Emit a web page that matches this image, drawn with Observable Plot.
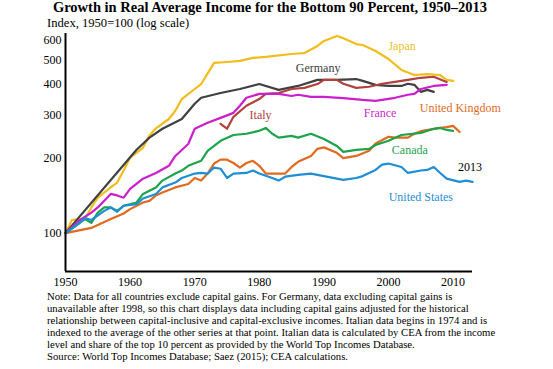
<!DOCTYPE html>
<html>
<head>
<meta charset="utf-8">
<script src="https://cdn.jsdelivr.net/npm/d3@7"></script>
<script src="https://cdn.jsdelivr.net/npm/@observablehq/plot@0.6"></script>
<style>
  html, body { margin: 0; padding: 0; background: #fff; }
  #wrap { position: relative; width: 553px; height: 369px; overflow: hidden; font-family: "Liberation Serif", "DejaVu Serif", serif; color: #000; }
  #title { position: absolute; top: 0; left: 0; width: 540px; text-align: center; font-weight: bold; font-size: 14.5px; line-height: 14px; white-space: nowrap; }
  #subtitle { position: absolute; top: 17px; left: 47px; font-size: 12.6px; line-height: 12px; white-space: nowrap; }
  #chart { position: absolute; top: 28px; left: 0; }
  #chart svg text { font-family: "Liberation Serif", serif !important; }
  #caption { position: absolute; top: 290px; left: 47px; font-family: "Liberation Serif", serif; font-size: 10.7px; line-height: 12px; white-space: nowrap; }
</style>
</head>
<body>
<div id="wrap">
  <div id="title">Growth in Real Average Income for the Bottom 90 Percent, 1950–2013</div>
  <div id="subtitle">Index, 1950=100 (log scale)</div>
  <div id="chart"></div>
  <div id="caption"></div>
</div>
<script>
// ---- Data (index, 1950 = 100) ----
const japan = [[1950,100],[1951,113],[1952,114],[1953,114],[1954,127],[1955,139],[1957,153],[1958,160],[1959,179],[1960,202],[1962,221],[1963,248],[1964,265],[1966,289],[1967,312],[1968,348],[1970,382],[1971,400],[1973,487],[1975,491],[1977,496],[1979,510],[1981,515],[1985,529],[1987,534],[1989,570],[1990,597],[1992,625],[1993,613],[1995,580],[1996,575],[1998,544],[2000,505],[2002,456],[2004,435],[2006,439],[2008,435],[2009,416],[2010,412]];
const germany = [[1950,100],[1961,217],[1963,243],[1965,264],[1968,289],[1970,333],[1971,352],[1974,368],[1977,382],[1980,400],[1983,379],[1986,393],[1989,416],[1992,416],[1995,419],[1996,412],[1998,397],[2000,393],[2002,393],[2003,401],[2004,397],[2005,372],[2006,379],[2007,372]];
const france = [[1950,100],[1952,112],[1954,121],[1955,127],[1957,144],[1958,142],[1959,139],[1960,151],[1962,166],[1964,175],[1966,187],[1967,205],[1969,229],[1970,264],[1972,279],[1974,292],[1976,306],[1977,327],[1978,352],[1980,365],[1983,365],[1985,358],[1986,362],[1988,355],[1990,355],[1993,351],[1996,345],[1998,342],[2001,352],[2003,362],[2004,365],[2005,382],[2007,393],[2009,397]];
const italy = [[1974,276],[1975,264],[1976,295],[1978,327],[1980,348],[1981,365],[1983,368],[1985,382],[1987,386],[1989,400],[1990,416],[1992,416],[1993,401],[1995,386],[1997,390],[1999,401],[2001,408],[2003,416],[2005,424],[2007,428],[2009,408]];
const canada = [[1950,100],[1952,109],[1953,114],[1954,110],[1955,121],[1956,127],[1957,127],[1958,123],[1959,129],[1961,133],[1962,144],[1964,153],[1965,163],[1967,174],[1968,179],[1969,187],[1971,196],[1972,215],[1974,236],[1976,249],[1978,252],[1980,259],[1981,266],[1982,252],[1983,243],[1985,247],[1986,243],[1988,252],[1990,240],[1992,225],[1993,213],[1995,217],[1997,219],[1998,227],[2000,236],[2002,249],[2005,254],[2007,264],[2008,266],[2009,261],[2010,259]];
const uk = [[1950,100],[1954,105],[1957,114],[1959,120],[1960,125],[1962,133],[1963,135],[1964,142],[1965,146],[1967,153],[1969,158],[1970,167],[1971,163],[1972,174],[1973,191],[1974,198],[1975,198],[1976,192],[1977,184],[1978,192],[1979,196],[1980,187],[1981,174],[1983,174],[1984,174],[1985,185],[1986,194],[1988,205],[1989,219],[1990,222],[1992,211],[1993,201],[1995,205],[1997,215],[1998,230],[2000,245],[2001,243],[2003,243],[2004,252],[2005,258],[2008,266],[2009,268],[2010,271],[2011,256]];
const us = [[1950,100],[1952,109],[1953,115],[1954,113],[1956,123],[1957,127],[1958,122],[1959,129],[1961,131],[1962,138],[1964,144],[1965,153],[1967,160],[1968,167],[1970,174],[1971,175],[1972,174],[1973,184],[1974,182],[1975,167],[1976,174],[1978,175],[1979,179],[1980,174],[1982,167],[1983,163],[1984,169],[1986,172],[1988,174],[1990,170],[1993,164],[1995,167],[1996,170],[1998,180],[1999,189],[2000,191],[2002,185],[2003,175],[2005,179],[2006,180],[2007,185],[2008,175],[2009,166],[2011,161],[2012,163],[2013,161]];

const countries = ["Japan","Germany","Italy","France","United Kingdom","Canada","United States"];
const seriesData = [japan, germany, italy, france, uk, canada, us];
const colors = ["#F2BC1B","#404040","#B0413D","#CC1FCC","#E06A1E","#1DA34B","#1E8ED5"];

// label anchors in data units [year, index]
const labelText = ["Japan","Germany","Italy","France","United Kingdom","Canada","United States","2013"];
const labelAt = [[2002.1,570],[1989.1,465],[1980.2,300],[1998.7,306],[2011.1,320],[2003.3,217],[2005.0,140],[2012.6,185]];
const labelColors = ["#F0BE2E","#404040","#B0413D","#CC1FCC","#E06A1E","#1DA34B","#1E8ED5","#000000"];

const xTicks = [1950,1960,1970,1980,1990,2000,2010];
const yTicks = [100,200,300,400,500,600];

const noteLines = [
  "Note: Data for all countries exclude capital gains. For Germany, data excluding capital gains is",
  "unavailable after 1998, so this chart displays data including capital gains adjusted for the historical",
  "relationship between capital-inclusive and capital-exclusive incomes. Italian data begins in 1974 and is",
  "indexed to the average of the other series at that point. Italian data is calculated by CEA from the income",
  "level and share of the top 10 percent as provided by the World Top Incomes Database.",
  "Source: World Top Incomes Database; Saez (2015); CEA calculations."
];

// ---- Build table ----
const rows = [];
seriesData.forEach((s, i) => s.forEach(([year, value]) => rows.push({country: countries[i], year, value})));
const labels = labelText.map((t, i) => ({text: t, year: labelAt[i][0], value: labelAt[i][1], color: labelColors[i]}));

const chart = Plot.plot({
  width: 553,
  height: 262,
  marginLeft: 65,
  marginRight: 81,
  marginTop: 5,
  marginBottom: 19,
  style: {fontFamily: "Liberation Serif", fontSize: "12px", color: "#000", background: "transparent", overflow: "visible"},
  x: {domain: [1950, 2013], ticks: xTicks, tickFormat: d => String(d), tickSize: 0, tickPadding: 6, label: null},
  y: {type: "log", domain: [70, 640], ticks: yTicks, tickFormat: d => String(d), tickSize: 0, tickPadding: 4, label: null},
  color: {domain: countries, range: colors},
  marks: [
    Plot.line(rows, {x: "year", y: "value", z: "country", stroke: "country", strokeWidth: 2.2, strokeLinejoin: "round", strokeLinecap: "round"}),
    Plot.ruleX([1950], {stroke: "#000", strokeWidth: 2}),
    Plot.ruleY([70], {stroke: "#000", strokeWidth: 2}),
    Plot.text(labels, {x: "year", y: "value", text: "text", fill: d => d.color, fontSize: 12, fontFamily: "Liberation Serif"})
  ]
});
document.getElementById("chart").appendChild(chart);
document.getElementById("caption").innerHTML = noteLines.map(l => `<div>${l}</div>`).join("");
</script>
</body>
</html>
